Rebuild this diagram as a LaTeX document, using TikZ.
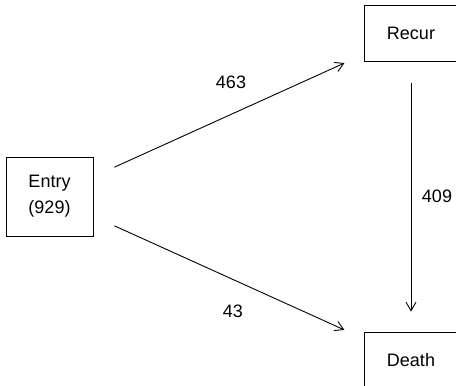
\documentclass[tikz,border=0pt]{standalone}
\usepackage{fontspec}
\setmainfont{Liberation Sans}
\usetikzlibrary{arrows.meta}
\begin{document}
\begin{tikzpicture}[x=1pt,y=-1pt,
  statebox/.style={draw=black, line width=0.9pt, inner sep=0pt, align=center,
    font=\fontsize{18}{26}\selectfont},
  flow/.style={draw=black, line width=0.9pt, -{Straight Barb[length=8.5pt,width=10pt]}},
  lbl/.style={font=\fontsize{18}{22}\selectfont, inner sep=0pt}]
\useasboundingbox (0,0) rectangle (456,386);
\clip (0,0) rectangle (456,386);
\node[statebox, minimum width=87pt, minimum height=79pt] (entry) at (49.5,196.5) {Entry\\(929)};
\node[statebox, minimum width=94pt, minimum height=56pt] (recur) at (411,33) {Recur};
\node[statebox, minimum width=94pt, minimum height=56pt] (death) at (411,360) {Death};
\draw[flow, shorten <=23pt, shorten >=21pt] (entry) -- (recur);
\draw[flow, shorten <=23pt, shorten >=21pt] (entry) -- (death);
\draw[flow, shorten <=22pt, shorten >=20pt] (recur) -- (death);
\node[lbl] (l463) at (231,82) {463};
\node[lbl] (l43) at (233,311) {43};
\node[lbl] (l409) at (437,196) {409};
\end{tikzpicture}
\end{document}
